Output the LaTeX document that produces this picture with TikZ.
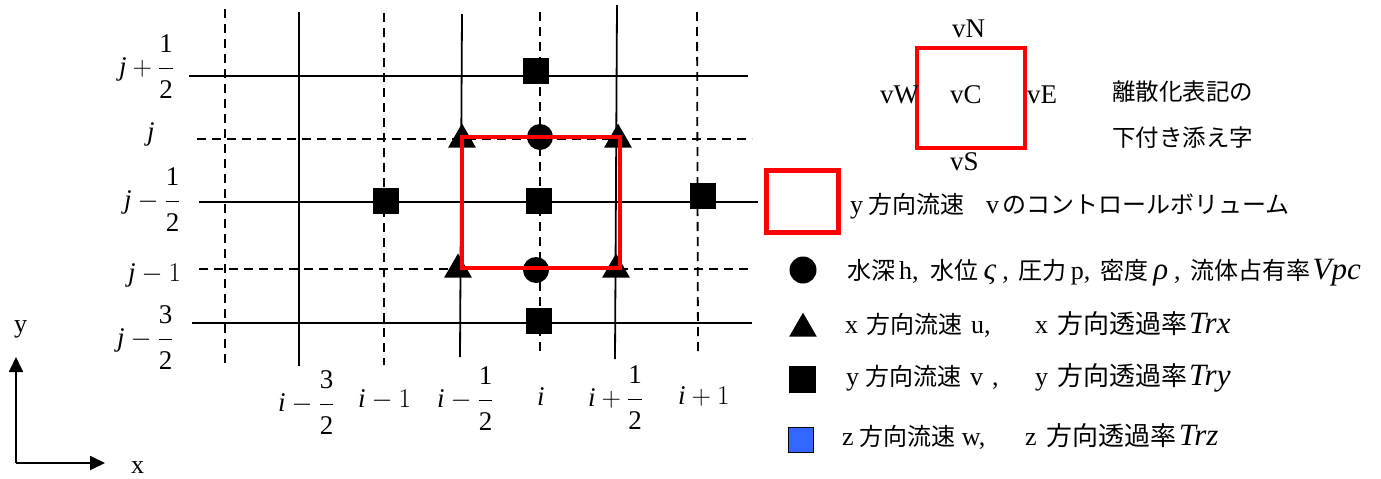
\RequirePackage{fix-cm}
\documentclass[tikz,border=0pt]{standalone}
\usepackage{amsmath}
\usepackage{fontspec}
\setmainfont{Liberation Serif}
\newfontfamily\jpfont{Noto Sans CJK JP}
\usetikzlibrary{shapes.geometric,arrows.meta}
\newcommand{\J}[1]{{\jpfont\fontsize{24}{28}\selectfont #1}}
\newcommand{\JJ}[1]{{\jpfont\fontsize{26}{30}\selectfont #1}}
\newcommand{\JS}[1]{{\jpfont\fontsize{23.5}{28}\selectfont #1}}
\newcommand{\I}[1]{{\itshape\fontsize{31}{33}\selectfont #1}}
\newcommand{\hfr}[2]{\dfrac{\raisebox{4pt}{#1}}{\raisebox{-5pt}{#2}}}
\definecolor{zblue}{RGB}{51,102,255}
\tikzset{
  gline/.style={line width=1.8pt},
  dline/.style={line width=1.8pt, dash pattern=on 9pt off 6pt},
  sq/.style={rectangle, fill=black, minimum size=26pt, inner sep=0pt},
  dot/.style={circle, fill=black, minimum size=26pt, inner sep=0pt},
  tri/.style={regular polygon, regular polygon sides=3, fill=black, minimum size=32pt, inner sep=0pt},
  cvbox/.style={draw=red, line width=4.5pt},
  lab/.style={inner sep=0pt, anchor=base west, font=\fontsize{27}{30}\selectfont},
  vlab/.style={inner sep=0pt, anchor=base west, font=\fontsize{27}{30}\selectfont},
  leg/.style={inner sep=0pt, anchor=base west, font=\fontsize{26}{30}\selectfont},
  axarrow/.style={line width=1.8pt, -{Triangle[length=15pt,width=14pt]}}
}
\begin{document}
\begin{tikzpicture}[x=1pt,y=-1pt]
\useasboundingbox (0,0) rectangle (1381,479);
% grid lines
\draw[dline] (225,9) -- (225,363);
\draw[gline] (299,12) -- (299,366);
\draw[dline] (384,13) -- (384,365);
\draw[gline] (462,14) -- (460,357);
\draw[dline] (540,12) -- (540,355);
\draw[gline] (617,5) -- (615,359);
\draw[dline] (697,12) -- (698,355);
\draw[gline] (189,76) -- (748,76);
\draw[dline] (197,139) -- (752,139);
\draw[gline] (199,202) -- (758,202);
\draw[dline] (199,269) -- (753,269);
\draw[gline] (192,323) -- (752,323);
% markers
\node[sq] (vN) at (536,71) {};
\node[sq] (vC) at (538.5,201) {};
\node[sq] (vS) at (538.5,321) {};
\node[sq] (vW) at (386,201) {};
\node[sq] (vE) at (702.5,195.5) {};
\node[dot] (hN) at (540,137) {};
\node[dot] (hS) at (536,270) {};
\node[tri] (uNW) at (462,139.5) {};
\node[tri] (uNE) at (618,139.5) {};
\node[tri] (uSW) at (458,269.5) {};
\node[tri] (uSE) at (616,269.5) {};
% control volume
\draw[cvbox] (462,137) rectangle (620,268);
% grid labels
\node[lab] (lj12) at (119,75) {$\textit{j}+\hfr{1}{2}$};
\node[lab] (lj) at (147,140) {$\textit{j}$};
\node[lab] (ljm12) at (124,208) {$\textit{j}-\hfr{1}{2}$};
\node[lab] (ljm1) at (128,281) {$\textit{j}-1$};
\node[lab] (ljm32) at (117,346) {$\textit{j}-\hfr{3}{2}$};
\node[lab] (li32) at (278,411) {$\textit{i}-\hfr{3}{2}$};
\node[lab] (lim1) at (358,407) {$\textit{i}-1$};
\node[lab] (lim12) at (437,407) {$\textit{i}-\hfr{1}{2}$};
\node[lab] (li) at (537,405) {$\textit{i}$};
\node[lab] (lip12) at (588,406) {$\textit{i}+\hfr{1}{2}$};
\node[lab] (lip1) at (678,404) {$\textit{i}+1$};
% axes
\coordinate (O) at (16,463);
\coordinate (Yt) at (16,357);
\coordinate (Xt) at (105,463);
\draw[axarrow] (O) -- (Yt);
\draw[axarrow] (O) -- (Xt);
\node[leg] (ylab) at (14,332) {y};
\node[leg] (xlab) at (131,473) {x};
% subscript legend
\draw[cvbox] (917,48) rectangle (1025,148);
\node[vlab] (tN) at (952,37) {vN};
\node[vlab] (tW) at (880,103) {vW};
\node[vlab] (tC) at (950,103) {vC};
\node[vlab] (tE) at (1027,103) {vE};
\node[vlab] (tS) at (950,170) {vS};
\node[leg] (sub1) at (1112,100) {\JS{離散化表記の}};
\node[leg] (sub2) at (1112,146.5) {\JS{下付き添え字}};
% legend
\draw[draw=red, line width=5pt] (766,170) rectangle (838,232);
\node[leg] (cvtext) at (850,213) {y\hspace{5pt}\J{方向流速}\hspace{22pt}v\hspace{3pt}\J{のコントロールボリューム}};
\node[dot, minimum size=27pt] (ldot) at (803,270) {};
\node[leg] (dottext) at (847,279) {\J{水深}\hspace{4pt}h,\hspace{12pt}\J{水位}\hspace{5pt}\I{ς}\hspace{6pt},\hspace{10pt}\J{圧力}\hspace{4pt}p,\hspace{10pt}\J{密度}\hspace{5pt}\I{ρ}\hspace{6pt},\hspace{10pt}\J{流体占有率}\hspace{2pt}\I{Vpc}};
\node[tri] (ltri) at (803,328.7) {};
\node[leg] (tritext) at (845,333) {x\hspace{8pt}\J{方向流速}\hspace{9pt}u,};
\node[leg] (tritext2) at (1035,333) {x\hspace{9pt}\JJ{方向透過率}\hspace{2pt}\I{Trx}};
\node[sq, minimum size=27pt] (lsq) at (802.5,379.5) {};
\node[leg] (sqtext) at (846,385) {y\hspace{6pt}\J{方向流速}\hspace{9pt}v\hspace{9pt},};
\node[leg] (sqtext2) at (1035,385) {y\hspace{9pt}\JJ{方向透過率}\hspace{2pt}\I{Try}};
\node[rectangle, fill=zblue, draw=black, line width=1.5pt, minimum size=25pt, inner sep=0pt] (lbsq) at (801,440) {};
\node[leg] (bsqtext) at (842,445) {z\hspace{6pt}\J{方向流速}\hspace{6pt}w,};
\node[leg] (bsqtext2) at (1025,445) {z\hspace{10pt}\JJ{方向透過率}\hspace{2pt}\I{Trz}};
\end{tikzpicture}
\end{document}
